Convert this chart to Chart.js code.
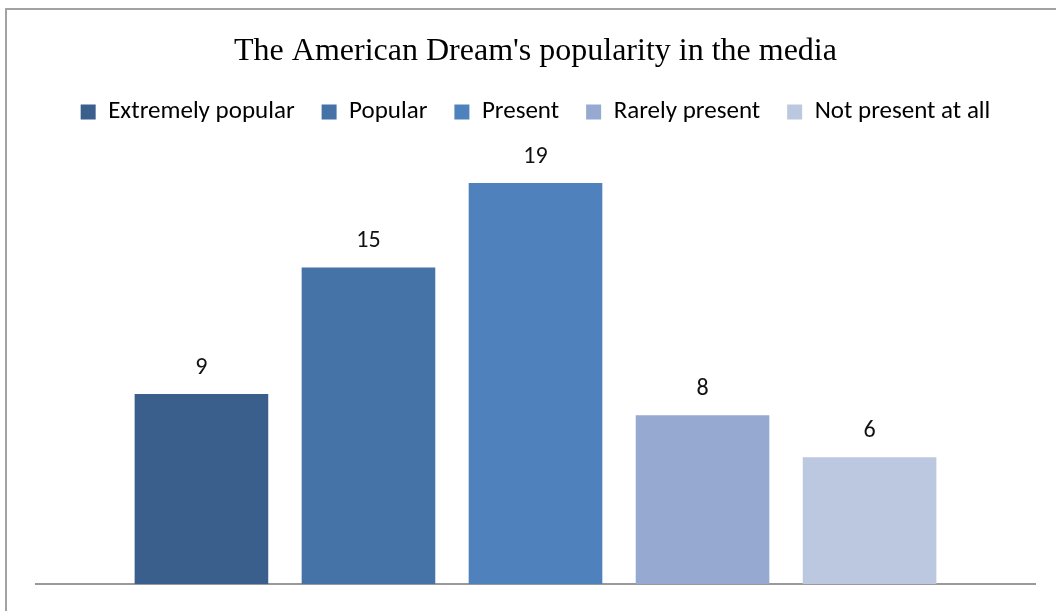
<!DOCTYPE html>
<html>
<head>
<meta charset="utf-8">
<script src="https://cdn.jsdelivr.net/npm/chart.js@4.4.1/dist/chart.umd.min.js"></script>
<style>
  html, body { margin: 0; padding: 0; background: #fff; overflow: hidden; }
  .frame {
    position: absolute; left: 5px; top: 8px; width: 2000px; height: 2000px;
    border: 2px solid #a3a3a3; box-sizing: border-box;
  }
  .wrap { position: absolute; left: 0; top: 0; width: 1056px; height: 611px; }
</style>
</head>
<body>
<div class="frame"></div>
<div class="wrap"><canvas id="chart" width="1056" height="611"></canvas></div>
<script>
// Data
const titleText = "The American Dream's popularity in the media";
const categories = ['Extremely popular', 'Popular', 'Present', 'Rarely present', 'Not present at all'];
const values = [9, 15, 19, 8, 6];
const colors = ['#3b5f8d', '#4573a7', '#4f81bd', '#95a9d1', '#bcc7e0'];

// Value labels above each bar
const valueLabels = {
    id: 'valueLabels',
    afterDatasetsDraw(chart) {
        const ctx = chart.ctx;
        ctx.save();
        ctx.font = '24px Carlito, "Open Sans", sans-serif';
        ctx.fillStyle = '#111';
        ctx.textAlign = 'center';
        ctx.textBaseline = 'middle';
        chart.data.datasets.forEach((ds, i) => {
            const meta = chart.getDatasetMeta(i);
            meta.data.forEach((bar, j) => {
                ctx.fillText(ds.data[j], bar.x, bar.y - 26);
            });
        });
        ctx.restore();
    }
};

const datasets = categories.map((name, i) => ({
    label: name,
    data: [values[i]],
    backgroundColor: colors[i],
    borderWidth: 0,
    categoryPercentage: 0.836,
    barPercentage: 0.8
}));

new Chart(document.getElementById('chart'), {
    type: 'bar',
    data: { labels: [''], datasets: datasets },
    options: {
        responsive: false,
        animation: false,
        layout: { padding: { left: 36, right: 21, top: 0, bottom: 19 } },
        plugins: {
            title: {
                display: true,
                text: titleText,
                color: '#000',
                font: { family: '"Liberation Serif", "Times New Roman", serif', size: 32, weight: 'normal' },
                padding: { top: 32, bottom: 2 }
            },
            legend: {
                position: 'top',
                labels: {
                    boxWidth: 15,
                    boxHeight: 15,
                    padding: 27,
                    color: '#000',
                    font: { family: 'Carlito, "Open Sans", sans-serif', size: 25 }
                }
            },
            tooltip: { enabled: false }
        },
        scales: {
            x: {
                grid: { display: false },
                ticks: { display: false },
                border: { display: true, color: '#999', width: 2 }
            },
            y: {
                display: false,
                min: 0,
                max: 21.3
            }
        }
    },
    plugins: [valueLabels]
});
</script>
</body>
</html>
